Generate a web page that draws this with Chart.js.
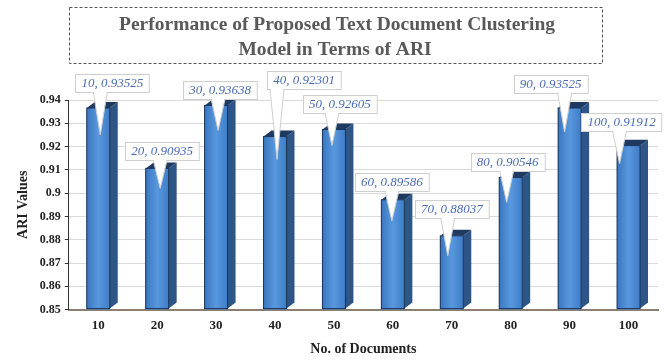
<!DOCTYPE html>
<html>
<head>
<meta charset="utf-8">
<script src="https://cdn.jsdelivr.net/npm/chart.js@4.4.1/dist/chart.umd.min.js"></script>
<style>
  html, body { margin: 0; padding: 0; background: #fff; }
  #wrap { width: 665px; height: 362px; }
</style>
</head>
<body>
<div id="wrap"><canvas id="ariChart" width="665" height="362"></canvas></div>
<script>
const documents = ["10", "20", "30", "40", "50", "60", "70", "80", "90", "100"];
const ariValues = [0.93525, 0.90935, 0.93638, 0.92301, 0.92605, 0.89586, 0.88037, 0.90546, 0.93525, 0.91912];
const yTicks = [0.85, 0.86, 0.87, 0.88, 0.89, 0.9, 0.91, 0.92, 0.93, 0.94];
const titleLines = ["Performance of Proposed Text Document Clustering", "Model in Terms of ARI"];

// where each callout box sits, relative to the top of its bar, and where its pointer ends
const calloutOffsets = [
    { dx: 14, dy: -28, tx: 2, ty: 24 },
    { dx: 5, dy: -20, tx: 3, ty: 17 },
    { dx: 4, dy: -18, tx: 2, ty: 22 },
    { dx: 29, dy: -60, tx: 2, ty: 20 },
    { dx: 6, dy: -28, tx: -2, ty: 13 },
    { dx: -1, dy: -21, tx: -1, ty: 18 },
    { dx: 0, dy: -30, tx: -4, ty: 17 },
    { dx: -3, dy: -18, tx: -4, ty: 22 },
    { dx: -19, dy: -27, tx: -5, ty: 21 },
    { dx: -7, dy: -27, tx: -9, ty: 15 }
];

const SERIF = "'Liberation Serif', 'Times New Roman', serif";

// front shading + side and top faces so the bars look like Excel 3D columns
const bar3d = {
    id: "bar3d",
    afterDatasetsDraw(chart) {
        const ctx = chart.ctx;
        const depth = 8, rise = 6;
        const bottom = chart.chartArea.bottom;
        chart.getDatasetMeta(0).data.forEach(bar => {
            const right = bar.x + bar.width / 2;
            const left = bar.x - bar.width / 2;
            const top = bar.y - 3;
            const base = Math.min(bar.base, bottom) - 1;
            ctx.save();
            const grad = ctx.createLinearGradient(left, 0, right, 0);
            grad.addColorStop(0, "#3a76c0");
            grad.addColorStop(0.5, "#5898de");
            grad.addColorStop(1, "#3f7dc8");
            ctx.fillStyle = grad;
            ctx.fillRect(left, top, bar.width, base - top);

            ctx.fillStyle = "#2d5687";
            ctx.beginPath();
            ctx.moveTo(right, top);
            ctx.lineTo(right + depth, top - rise);
            ctx.lineTo(right + depth, base - rise);
            ctx.lineTo(right, base);
            ctx.closePath();
            ctx.fill();
            ctx.fillStyle = "#1e3a60";
            ctx.beginPath();
            ctx.moveTo(left, top);
            ctx.lineTo(left + depth, top - rise);
            ctx.lineTo(right + depth, top - rise);
            ctx.lineTo(right, top);
            ctx.closePath();
            ctx.fill();
            ctx.strokeStyle = "#1b3458";
            ctx.lineWidth = 1;
            ctx.strokeRect(left, top, bar.width, base - top);
            ctx.restore();
        });
    }
};

const callouts = {
    id: "callouts",
    afterDatasetsDraw(chart) {
        const ctx = chart.ctx;
        ctx.save();
        ctx.font = "italic 13px " + SERIF;
        chart.getDatasetMeta(0).data.forEach((bar, i) => {
            const off = calloutOffsets[i];
            const text = documents[i] + ", " + ariValues[i];
            const w = ctx.measureText(text).width + 12;
            const h = 18;
            const cx = bar.x + off.dx, cy = bar.y + off.dy;
            const bx = Math.round(cx - w / 2), by = Math.round(cy - h / 2);
            const tipX = bar.x + off.tx, tipY = bar.y + off.ty;
            const baseX = Math.min(Math.max(tipX, bx + 10), bx + w - 10);
            const baseY = by + h;

            ctx.fillStyle = "#fff";
            ctx.strokeStyle = "#cfcfcf";
            ctx.lineWidth = 1;
            ctx.beginPath();
            ctx.moveTo(baseX - 7, baseY - 1);
            ctx.lineTo(tipX, tipY);
            ctx.lineTo(baseX + 7, baseY - 1);
            ctx.closePath();
            ctx.fill();
            ctx.beginPath();
            ctx.moveTo(baseX - 7, baseY);
            ctx.lineTo(tipX, tipY);
            ctx.lineTo(baseX + 7, baseY);
            ctx.stroke();

            ctx.fillRect(bx, by, w, h);
            ctx.strokeRect(bx + 0.5, by + 0.5, w, h);
            ctx.fillRect(baseX - 6, baseY - 1, 12, 3);

            ctx.fillStyle = "#4a6cb5";
            ctx.textAlign = "center";
            ctx.textBaseline = "middle";
            ctx.fillText(text, cx, by + h / 2 + 1);
        });
        ctx.restore();
    }
};

// chart title inside a dashed frame
const titleBox = {
    id: "titleBox",
    afterDraw(chart) {
        const ctx = chart.ctx;
        ctx.save();
        ctx.setLineDash([3, 2]);
        ctx.strokeStyle = "#555";
        ctx.lineWidth = 1;
        ctx.strokeRect(69.5, 7.5, 533, 56);
        ctx.setLineDash([]);
        ctx.fillStyle = "#595959";
        ctx.font = "bold 19.5px " + SERIF;
        ctx.textAlign = "center";
        ctx.textBaseline = "middle";
        ctx.fillText(titleLines[0], 337, 25, 520);
        ctx.fillText(titleLines[1], 335, 50);
        ctx.restore();
    }
};

new Chart(document.getElementById("ariChart"), {
    type: "bar",
    data: {
        labels: documents,
        datasets: [{
            label: "ARI",
            data: ariValues,
            backgroundColor: "#4a89d2",
            borderWidth: 0,
            barPercentage: 0.39,
            categoryPercentage: 1.0
        }]
    },
    options: {
        responsive: false,
        animation: false,
        layout: { padding: { left: 15, right: 7, top: 100, bottom: 4 } },
        plugins: {
            legend: { display: false },
            tooltip: { enabled: false },
            title: { display: false }
        },
        scales: {
            x: {
                grid: { display: false, drawTicks: false, tickLength: 0 },
                border: { display: true, color: "#8c7f72", width: 2 },
                ticks: { color: "#222", font: { family: SERIF, size: 13, weight: "bold" }, padding: 8 },
                title: {
                    display: true,
                    text: "No. of Documents",
                    color: "#222",
                    font: { family: SERIF, size: 14, weight: "bold" },
                    padding: { top: 0, bottom: 0 }
                }
            },
            y: {
                min: 0.85,
                max: 0.94,
                afterBuildTicks: (axis) => { axis.ticks = yTicks.map(v => ({ value: v })); },
                grid: { color: "#dadada", drawTicks: true, tickLength: 4, tickColor: "#333" },
                border: { display: true, color: "#333", width: 1 },
                ticks: {
                    color: "#222",
                    font: { family: SERIF, size: 12, weight: "bold" },
                    padding: 4,
                    callback: (v) => String(Math.round(v * 100) / 100)
                },
                title: {
                    display: true,
                    text: "ARI Values",
                    color: "#222",
                    font: { family: SERIF, size: 14, weight: "bold" },
                    padding: { top: 0, bottom: 4 }
                }
            }
        }
    },
    plugins: [bar3d, callouts, titleBox]
});
</script>
</body>
</html>
